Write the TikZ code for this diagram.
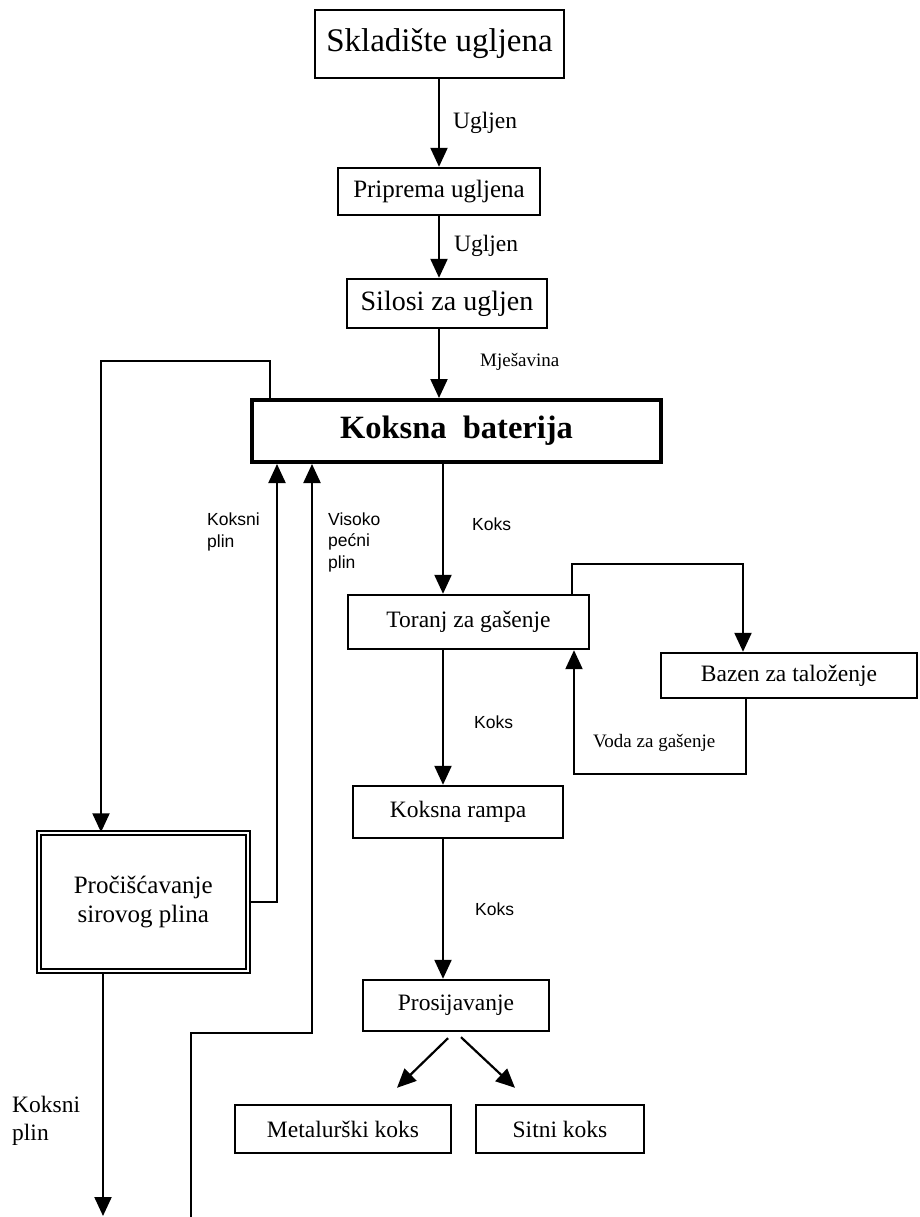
\documentclass[tikz,border=0pt]{standalone}
\usepackage{fontspec}
\setmainfont{Liberation Serif}
\setsansfont{Liberation Sans}
\usetikzlibrary{calc, arrows.meta, positioning}

\begin{document}
\begin{tikzpicture}[x=1pt, y=-1pt, >=latex]
	\tikzstyle{box} = [draw=black, rectangle, line width=2.4pt, inner sep=0pt, align=center, font=\fontsize{23.5}{28}\selectfont]
	\tikzstyle{arrow} = [line width=2.2pt, -{Triangle[length=19pt, width=17pt]}]
	\tikzstyle{flow} = [font=\sffamily\fontsize{17.5}{22}\selectfont, anchor=west, align=left, inner sep=0pt]
	\tikzstyle{flowserif} = [font=\fontsize{19}{22}\selectfont, anchor=west, align=left, inner sep=0pt]
	\tikzstyle{flowbig} = [font=\fontsize{23.5}{28}\selectfont, anchor=west, align=left, inner sep=0pt]

	\useasboundingbox (0,0) rectangle (919,1217);

	% boxes
	\node[box, minimum width=249pt, minimum height=68pt, font=\fontsize{33}{38}\selectfont] at (439.5, 44) (q0) {Skladište ugljena};
	\node[box, minimum width=202pt, minimum height=47pt, font=\fontsize{25}{30}\selectfont] at (439, 191.5) (q1) {Priprema ugljena};
	\node[box, minimum width=200pt, minimum height=49pt, font=\fontsize{28}{32}\selectfont] at (447, 303.5) (q2) {Silosi za ugljen};
	\node[box, line width=4pt, minimum width=409pt, minimum height=62pt, font=\bfseries\fontsize{32.5}{36}\selectfont] at (456.5, 431) (q3) {Koksna~~baterija};
	\node[box, minimum width=241pt, minimum height=54pt] at (468.5, 622) (q4) {Toranj za gašenje};
	\node[box, minimum width=256pt, minimum height=45pt] at (789, 675.5) (q5) {Bazen za taloženje};
	\node[box, minimum width=210pt, minimum height=52pt] at (458, 812) (q6) {Koksna rampa};
	\node[box, minimum width=186pt, minimum height=51pt] at (456, 1005.5) (q7) {Prosijavanje};
	\node[box, minimum width=216pt, minimum height=48pt] at (343, 1129) (q8) {Metalurški koks};
	\node[box, minimum width=168pt, minimum height=48pt] at (560, 1129) (q9) {Sitni koks};
	\node[box, line width=2pt, double, double distance=2pt, minimum width=209pt, minimum height=138pt,
		font=\fontsize{25}{29}\selectfont] at (143.25, 902.25) (q10) {Pročišćavanje\\sirovog plina};

	% labels
	\node[flowbig] at (453, 123) (l0) {Ugljen};
	\node[flowbig] at (454, 246) (l1) {Ugljen};
	\node[flowserif] at (480, 362) (l2) {Mješavina};
	\node[flow] at (472, 524) (l3) {Koks};
	\node[flow] at (474, 722) (l4) {Koks};
	\node[flow] at (475, 909) (l5) {Koks};
	\node[flow] at (207, 532) (l6) {Koksni\\plin};
	\node[flow, font=\sffamily\fontsize{17.5}{21.5}\selectfont] at (328, 542) (l7) {Visoko\\pećni\\plin};
	\node[flowserif] at (593, 743) (l8) {Voda za gašenje};
	\node[flowbig] at (12, 1121) (l9) {Koksni\\plin};

	% bends
	\coordinate (ax1) at (439, 0);
	\coordinate (ax2) at (443, 0);
	\coordinate (k0) at (270, 361);
	\coordinate (k1) at (101, 361);
	\coordinate (k2) at (277, 902);
	\coordinate (k3) at (191, 1217);
	\coordinate (k4) at (191, 1033);
	\coordinate (k5) at (312, 1033);
	\coordinate (k6) at (572, 564);
	\coordinate (k7) at (743, 564);
	\coordinate (k8) at (746, 774);
	\coordinate (k9) at (574, 774);
	\coordinate (k10) at (103, 1216);

	\draw [arrow] (ax1 |- q0.south) -- (ax1 |- q1.north);
	\draw [arrow] (ax1 |- q1.south) -- (ax1 |- q2.north);
	\draw [arrow] (ax1 |- q2.south) -- (ax1 |- q3.north);
	\draw [arrow] (ax2 |- q3.south) -- (ax2 |- q4.north);
	\draw [arrow] (ax2 |- q4.south) -- (ax2 |- q6.north);
	\draw [arrow] (ax2 |- q6.south) -- (ax2 |- q7.north);
	\draw [arrow] ($(q7.south)+(-8,6)$) -- ($(q8.north)+(54,-16)$);
	\draw [arrow] ($(q7.south)+(5,5)$) -- ($(q9.north)+(-45,-16)$);

	\draw [arrow] (k0 |- q3.north) -- (k0) -- (k1) -- (k1 |- q10.north);
	\draw [arrow] (q10.east |- k2) -- (k2) -- (k2 |- q3.south);
	\draw [arrow] (k3) -- (k4) -- (k5) -- (k5 |- q3.south);
	\draw [arrow] (q10.south -| k10) -- (k10);

	\draw [arrow] (k6 |- q4.north) -- (k6) -- (k7) -- (k7 |- q5.north);
	\draw [arrow] (k8 |- q5.south) -- (k8) -- (k9) -- (k9 |- q4.south);
\end{tikzpicture}
\end{document}
